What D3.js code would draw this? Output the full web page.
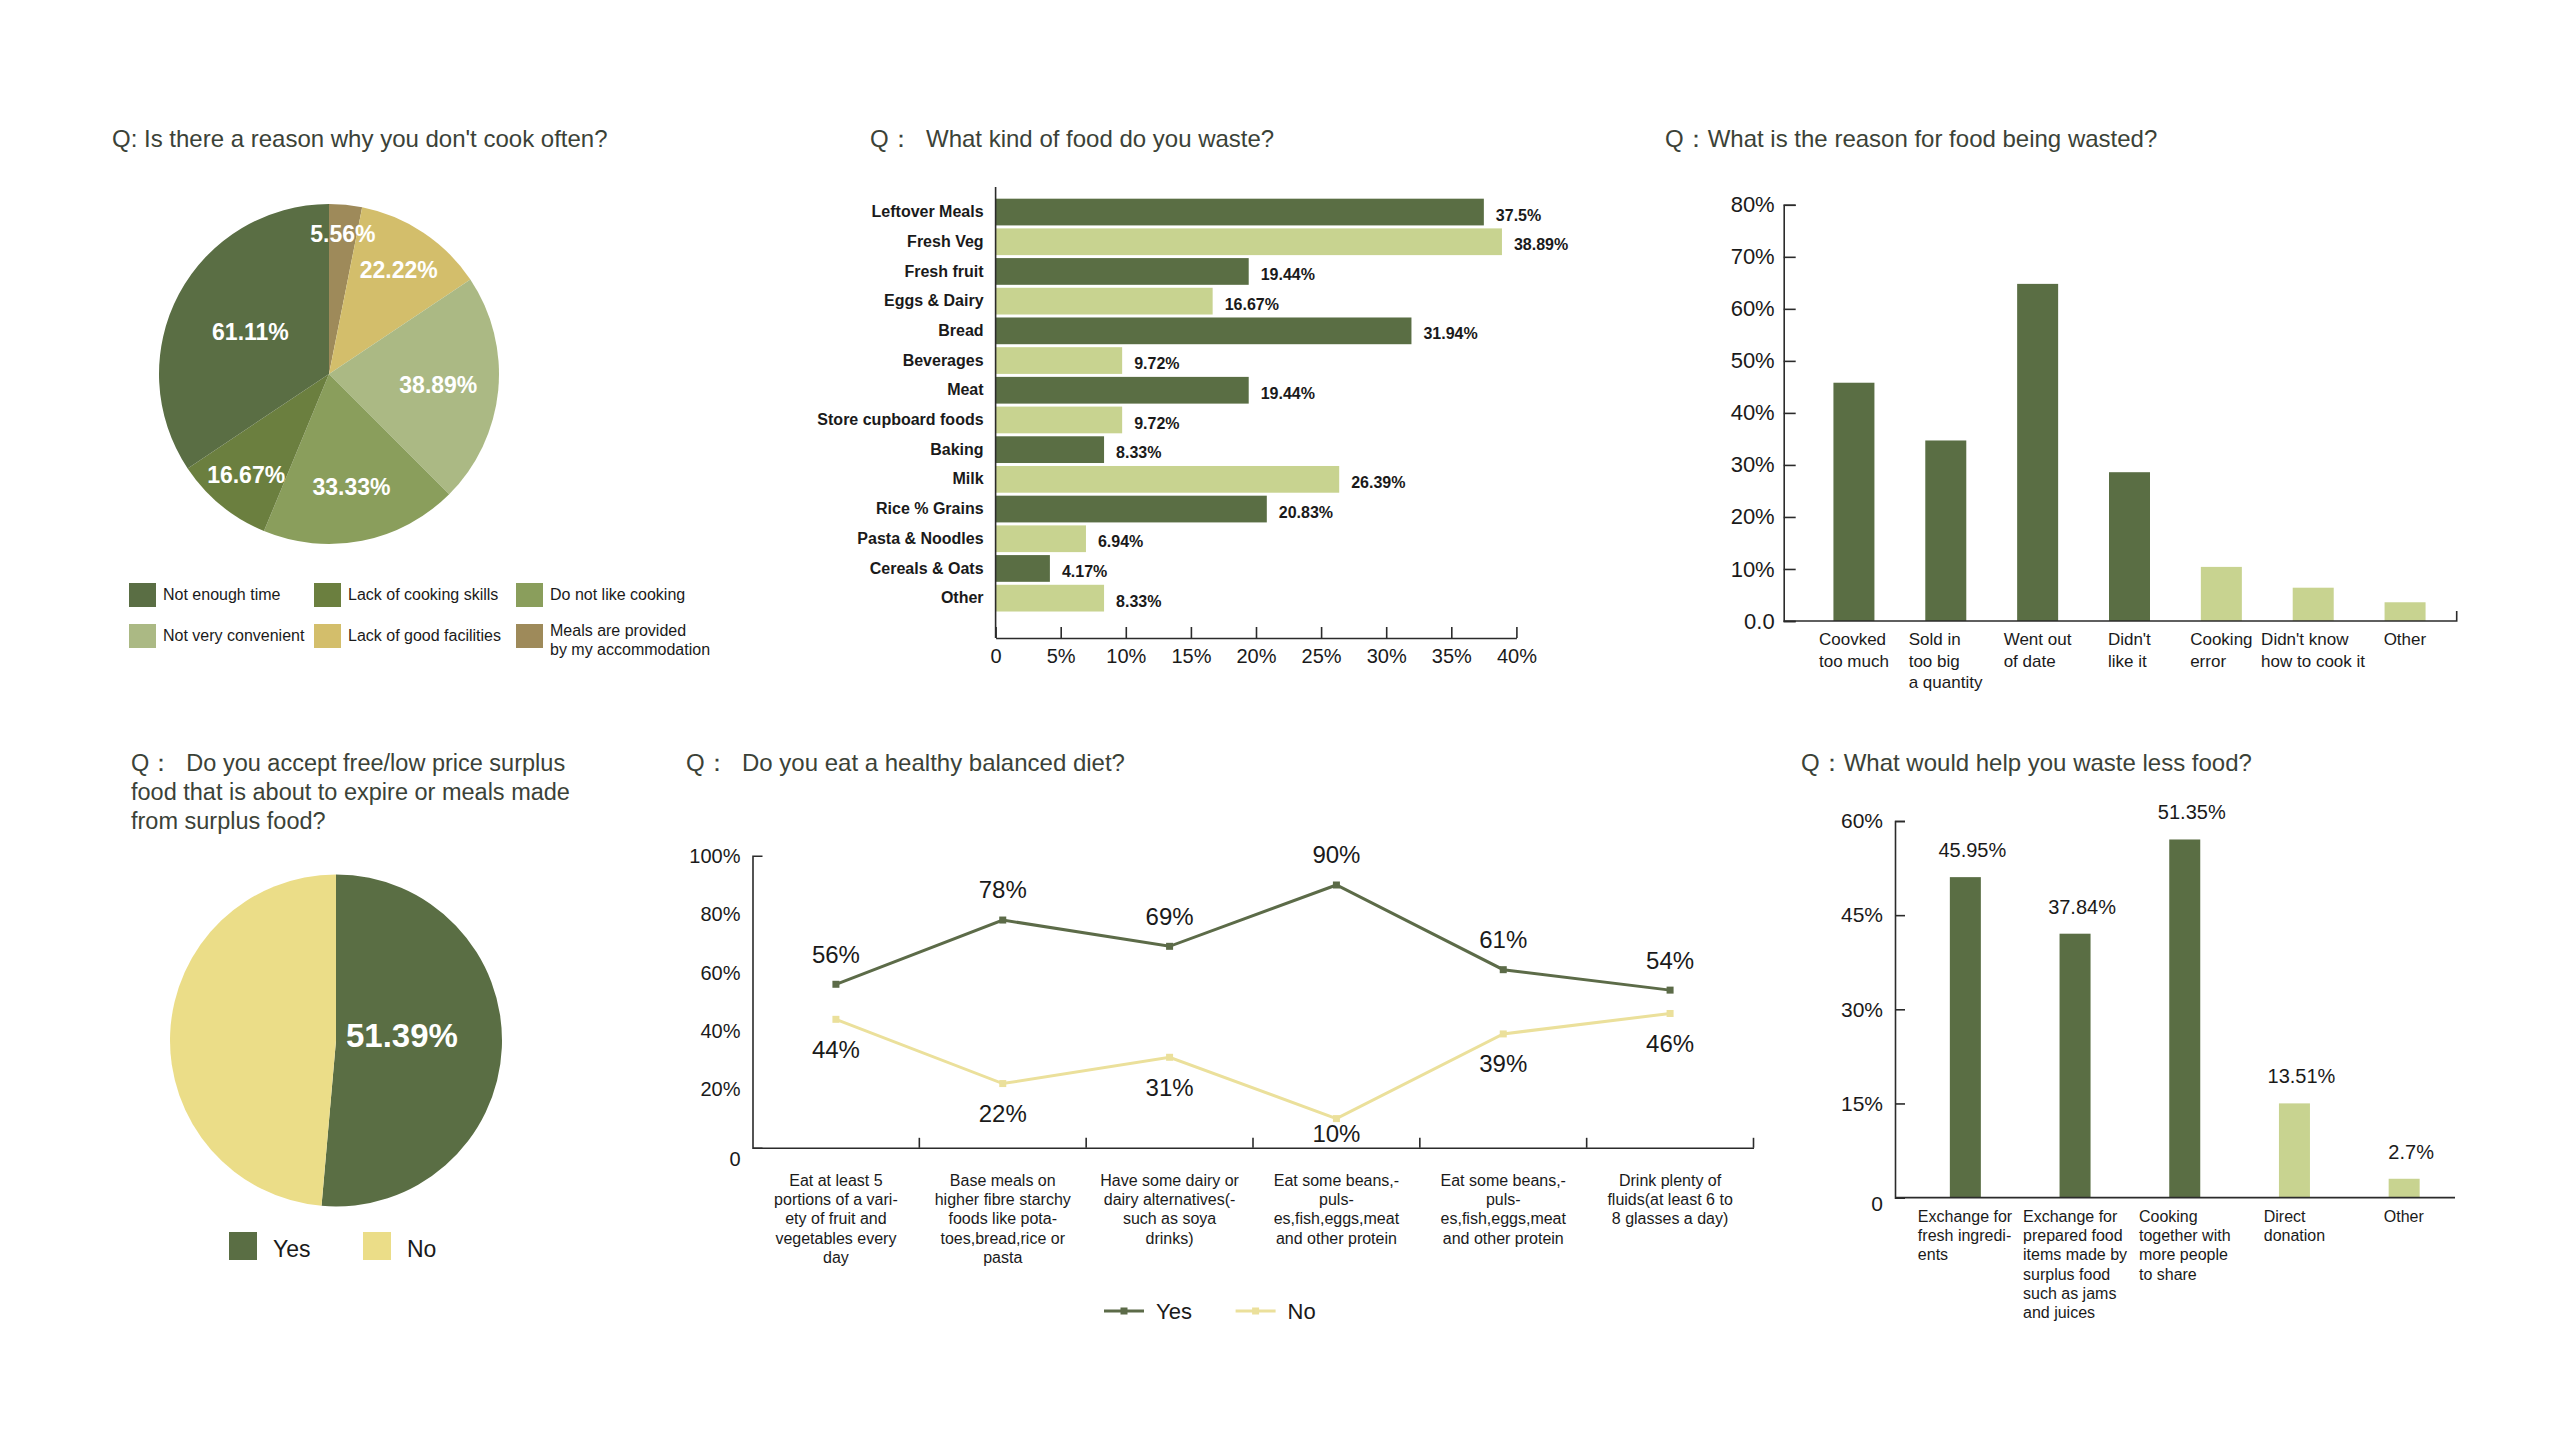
<!DOCTYPE html>
<html lang="en">
<head>
<meta charset="utf-8">
<title>Food waste survey</title>
<script src="https://cdn.jsdelivr.net/npm/d3@7/dist/d3.min.js"></script>
<style>
  body { margin: 0; background: #fff; }
  svg { font-family: "Liberation Sans", Arial, Helvetica, sans-serif; }
  .title { fill: #3b4237; font-size: 24px; white-space: pre; }
  .axis path, .axis line { stroke: #2b2b2b; stroke-width: 1.6; fill: none; }
  .axis text { fill: #1a1a1a; font-family: "Liberation Sans", Arial, sans-serif; }
</style>
</head>
<body>
<script>
// ---- data ----
// Q: Is there a reason why you don't cook often?
var cookReasons = ["Not enough time", "Lack of cooking skills", "Do not like cooking",
                   "Not very convenient", "Lack of good facilities", "Meals are provided\nby my accommodation"];
var cookShares = [61.11, 16.67, 33.33, 38.89, 22.22, 5.56];

// Q: What kind of food do you waste?
var wasteFoods = ["Leftover Meals", "Fresh Veg", "Fresh fruit", "Eggs & Dairy", "Bread", "Beverages", "Meat",
                  "Store cupboard foods", "Baking", "Milk", "Rice % Grains", "Pasta & Noodles", "Cereals & Oats", "Other"];
var wasteShares = [37.5, 38.89, 19.44, 16.67, 31.94, 9.72, 19.44, 9.72, 8.33, 26.39, 20.83, 6.94, 4.17, 8.33];
var wasteTicks = [0, 5, 10, 15, 20, 25, 30, 35, 40];

// Q: What is the reason for food being wasted?
var reasonLabels = ["Coovked\ntoo much", "Sold in\ntoo big\na quantity", "Went out\nof date", "Didn't\nlike it",
                    "Cooking\nerror", "Didn't know\nhow to cook it", "Other"];
var reasonShares = [45.8, 34.7, 64.8, 28.6, 10.4, 6.4, 3.6];
var reasonTicks = [0, 10, 20, 30, 40, 50, 60, 70, 80];

// Q: Do you accept free/low price surplus food ...
var surplusAnswers = ["Yes", "No"];
var surplusShares = [51.39, 48.61];

// Q: Do you eat a healthy balanced diet?
var dietItems = ["Eat at least 5\nportions of a vari-\nety of fruit and\nvegetables every\nday",
                 "Base meals on\nhigher fibre starchy\nfoods like pota-\ntoes,bread,rice or\npasta",
                 "Have some dairy or\ndairy alternatives(-\nsuch as soya\ndrinks)",
                 "Eat some beans,-\npuls-\nes,fish,eggs,meat\nand other protein",
                 "Eat some beans,-\npuls-\nes,fish,eggs,meat\nand other protein",
                 "Drink plenty of\nfluids(at least 6 to\n8 glasses a day)"];
var dietYes = [56, 78, 69, 90, 61, 54];
var dietNo = [44, 22, 31, 10, 39, 46];
var dietTicks = [0, 20, 40, 60, 80, 100];

// Q: What would help you waste less food?
var helpItems = ["Exchange for\nfresh ingredi-\nents", "Exchange for\nprepared food\nitems made by\nsurplus food\nsuch as jams\nand juices",
                 "Cooking\ntogether with\nmore people\nto share", "Direct\ndonation", "Other"];
var helpShares = [45.95, 37.84, 51.35, 13.51, 2.7];
var helpTicks = [0, 15, 30, 45, 60];

// ---- styles ----
var dark = "#5a6e44", light = "#c8d390";
var cookColors = ["#5a6e44", "#6b7f3f", "#8a9e5c", "#abb984", "#d3be6b", "#9e8a5a"];
var surplusColors = ["#5a6e44", "#ebdd88"];
var lineColors = ["#5c6b48", "#ebe09b"];

var svg = d3.select("body").append("svg").attr("width", 2560).attr("height", 1440);

function title(lines, x, y, size) {
  var t = svg.append("text").attr("class", "title").attr("x", x).attr("y", y);
  if (size) t.style("font-size", size + "px");
  lines.forEach(function (s, i) {
    t.append("tspan").attr("x", x).attr("dy", i ? 29 : 0).text(s);
  });
}

// left aligned multi-line block, centred on cx
function block(g, text, cx, y, lh, size) {
  var t = g.append("text").attr("y", y).style("font-size", size + "px").attr("fill", "#1a1a1a");
  text.split("\n").forEach(function (s, i) {
    t.append("tspan").attr("x", 0).attr("dy", i ? lh : 0).text(s);
  });
  var w = t.node().getBBox().width;
  t.attr("transform", "translate(" + (cx - w / 2) + ",0)");
}

// ========== 1. pie: reason for not cooking ==========
title(["Q: Is there a reason why you don't cook often?"], 112, 147);
(function () {
  var cx = 329, cy = 374, r = 170;
  var data = cookReasons.map(function (d, i) { return { name: d, value: cookShares[i], color: cookColors[i] }; }).reverse();
  var pie = d3.pie().sort(null).value(function (d) { return d.value; });
  var arc = d3.arc().innerRadius(0).outerRadius(r);
  var g = svg.append("g").attr("transform", "translate(" + cx + "," + cy + ")");
  var arcs = pie(data);
  g.selectAll("path").data(arcs).enter().append("path")
    .attr("d", arc).attr("fill", function (d) { return d.data.color; });
  // small slices get their label pushed further out
  g.selectAll("text").data(arcs).enter().append("text")
    .attr("transform", function (d) {
      var lr = r * (0.86 - 0.0055 * d.data.value);
      return "translate(" + d3.arc().innerRadius(lr).outerRadius(lr).centroid(d) + ")";
    })
    .attr("text-anchor", "middle").attr("dy", "0.35em")
    .style("font-size", "23px").style("font-weight", "bold").attr("fill", "#fff")
    .text(function (d) { return d.data.value.toFixed(2) + "%"; });

  var colX = [129, 314, 516], rowY = [595, 636];
  var lg = svg.append("g");
  cookReasons.forEach(function (name, i) {
    var x = colX[i % 3], y = rowY[Math.floor(i / 3)];
    lg.append("rect").attr("x", x).attr("y", y - 12).attr("width", 27).attr("height", 24).attr("fill", cookColors[i]);
    var lines = name.split("\n");
    var t = lg.append("text").attr("x", x + 34).attr("y", lines.length > 1 ? y : y + 5)
      .style("font-size", "16px").attr("fill", "#1a1a1a");
    lines.forEach(function (s, j) { t.append("tspan").attr("x", x + 34).attr("dy", j ? 19 : 0).text(s); });
  });
})();

// ========== 2. horizontal bars: food wasted ==========
title(["Q：  What kind of food do you waste?"], 870, 147);
(function () {
  var x = d3.scaleLinear().domain([0, 40]).range([995.6, 1516.4]);
  var y = d3.scaleBand().domain(wasteFoods).range([197.2, 613]).paddingInner(0.1).paddingOuter(0.05);
  var g = svg.append("g");
  g.selectAll("rect").data(wasteFoods).enter().append("rect")
    .attr("x", x(0)).attr("y", function (d) { return y(d); })
    .attr("width", function (d, i) { return x(wasteShares[i]) - x(0); })
    .attr("height", y.bandwidth())
    .attr("fill", function (d, i) { return i % 2 ? light : dark; });
  g.selectAll("text.val").data(wasteFoods).enter().append("text").attr("class", "val")
    .attr("x", function (d, i) { return x(wasteShares[i]) + 12; })
    .attr("y", function (d) { return y(d) + y.bandwidth() / 2 + 3; })
    .attr("dy", "0.35em").style("font-size", "16px").style("font-weight", "bold").attr("fill", "#1a1a1a")
    .text(function (d, i) { return wasteShares[i] + "%"; });

  var ya = svg.append("g").attr("class", "axis").attr("transform", "translate(" + x(0) + ",0)")
    .call(d3.axisLeft(y).tickSize(0).tickPadding(12));
  ya.select(".domain").remove();
  ya.selectAll("text").style("font-size", "16px").style("font-weight", "bold");
  svg.append("line").attr("x1", x(0)).attr("x2", x(0)).attr("y1", 187).attr("y2", 638)
    .attr("stroke", "#2b2b2b").attr("stroke-width", 1.6);

  svg.append("g").attr("class", "axis").attr("transform", "translate(0,638)")
    .call(d3.axisBottom(x).tickValues(wasteTicks).tickSizeInner(-11).tickSizeOuter(0).tickPadding(11)
      .tickFormat(function (d) { return d ? d + "%" : "0"; }))
    .selectAll("text").style("font-size", "20px");
})();

// ========== 3. vertical bars: reason for waste ==========
title(["Q：What is the reason for food being wasted?"], 1665, 147);
(function () {
  var y = d3.scaleLinear().domain([0, 80]).range([621, 204.8]);
  var x = d3.scaleBand().domain(d3.range(reasonLabels.length)).range([1808, 2451]);
  var bw = 41;
  var g = svg.append("g");
  g.selectAll("rect").data(reasonShares).enter().append("rect")
    .attr("x", function (d, i) { return x(i) + x.bandwidth() / 2 - bw / 2; })
    .attr("y", function (d) { return y(d); })
    .attr("width", bw).attr("height", function (d) { return y(0) - y(d); })
    .attr("fill", function (d, i) { return i < 4 ? dark : light; });

  svg.append("g").attr("class", "axis").attr("transform", "translate(1783.7,0)")
    .call(d3.axisLeft(y).tickValues(reasonTicks).tickSize(-12).tickPadding(9)
      .tickFormat(function (d) { return d ? d + "%" : "0.0"; }))
    .selectAll("text").style("font-size", "22px");
  svg.append("path").attr("d", "M1783.7," + y(0) + "H2456.7V" + (y(0) - 10))
    .attr("fill", "none").attr("stroke", "#2b2b2b").attr("stroke-width", 1.6);

  reasonLabels.forEach(function (s, i) {
    block(svg, s, x(i) + x.bandwidth() / 2, 645, 21.7, 17);
  });
})();

// ========== 4. pie: surplus food ==========
title(["Q：  Do you accept free/low price surplus", "food that is about to expire or meals made", "from surplus food?"], 131, 771, 23.5);
(function () {
  var cx = 336, cy = 1040.5, r = 166;
  var pie = d3.pie().sort(null);
  var arc = d3.arc().innerRadius(0).outerRadius(r);
  var labelArc = d3.arc().innerRadius(0).outerRadius(132);
  var g = svg.append("g").attr("transform", "translate(" + cx + "," + cy + ")");
  var arcs = pie(surplusShares);
  g.selectAll("path").data(arcs).enter().append("path")
    .attr("d", arc).attr("fill", function (d, i) { return surplusColors[i]; });
  g.append("text").datum(arcs[0])
    .attr("transform", function (d) { return "translate(" + labelArc.centroid(d) + ")"; })
    .attr("text-anchor", "middle").attr("dy", "0.1em")
    .style("font-size", "33px").style("font-weight", "bold").attr("fill", "#fff")
    .text(function (d) { return d.data + "%"; });

  var lx = [229, 363];
  surplusAnswers.forEach(function (s, i) {
    svg.append("rect").attr("x", lx[i]).attr("y", 1232).attr("width", 28).attr("height", 28).attr("fill", surplusColors[i]);
    svg.append("text").attr("x", lx[i] + 44).attr("y", 1257).style("font-size", "23px").attr("fill", "#1a1a1a").text(s);
  });
})();

// ========== 5. line chart: healthy diet ==========
title(["Q：  Do you eat a healthy balanced diet?"], 686, 771);
(function () {
  var x = d3.scaleBand().domain(d3.range(dietItems.length)).range([752.5, 1753.5]);
  var y = d3.scaleLinear().domain([0, 100]).range([1147.8, 855.8]);
  var cx = function (i) { return x(i) + x.bandwidth() / 2; };

  svg.append("g").attr("class", "axis").attr("transform", "translate(752.5,0)")
    .call(d3.axisLeft(y).tickValues(dietTicks).tickSizeInner(0).tickSizeOuter(-10).tickPadding(12)
      .tickFormat(function (d) { return d ? d + "%" : "0"; }))
    .selectAll("text").style("font-size", "20px")
    .attr("dy", function (d) { return d ? "0.32em" : "0.9em"; });

  var xa = svg.append("g").attr("class", "axis").attr("transform", "translate(0,1147.8)")
    .call(d3.axisBottom(x).tickSize(0).tickFormat(""));
  xa.selectAll(".tick").remove();
  xa.selectAll("line.sep").data(dietItems).enter().append("line").attr("class", "sep")
    .attr("x1", function (d, i) { return x(i) + x.bandwidth(); })
    .attr("x2", function (d, i) { return x(i) + x.bandwidth(); })
    .attr("y1", 0).attr("y2", -10);

  dietItems.forEach(function (s, i) {
    var t = svg.append("text").attr("text-anchor", "middle").attr("y", 1186)
      .style("font-size", "16px").attr("fill", "#1a1a1a");
    s.split("\n").forEach(function (ln, j) { t.append("tspan").attr("x", cx(i)).attr("dy", j ? 19.2 : 0).text(ln); });
  });

  var line = d3.line().x(function (d, i) { return cx(i); }).y(function (d) { return y(d); });
  [dietYes, dietNo].forEach(function (series, k) {
    var g = svg.append("g");
    g.append("path").datum(series).attr("d", line).attr("fill", "none")
      .attr("stroke", lineColors[k]).attr("stroke-width", 3);
    g.selectAll("rect").data(series).enter().append("rect")
      .attr("x", function (d, i) { return cx(i) - 3.5; }).attr("y", function (d) { return y(d) - 3.5; })
      .attr("width", 7).attr("height", 7).attr("fill", lineColors[k]);
    g.selectAll("text").data(series).enter().append("text")
      .attr("x", function (d, i) { return cx(i); })
      .attr("y", function (d) { return k ? Math.min(y(d) + 30, y(0) - 14) : y(d) - 30; })
      .attr("dy", "0.35em").attr("text-anchor", "middle")
      .style("font-size", "24px").attr("fill", "#1a1a1a")
      .text(function (d) { return d + "%"; });
  });

  var legX = [1104, 1235.6], names = ["Yes", "No"];
  names.forEach(function (s, k) {
    svg.append("line").attr("x1", legX[k]).attr("x2", legX[k] + 40).attr("y1", 1311).attr("y2", 1311)
      .attr("stroke", lineColors[k]).attr("stroke-width", 3);
    svg.append("rect").attr("x", legX[k] + 16.5).attr("y", 1307.5).attr("width", 7).attr("height", 7).attr("fill", lineColors[k]);
    svg.append("text").attr("x", legX[k] + 52).attr("y", 1319).style("font-size", "22px").attr("fill", "#1a1a1a").text(s);
  });
})();

// ========== 6. vertical bars: what would help ==========
title(["Q：What would help you waste less food?"], 1801, 771);
(function () {
  // the original axis reads 0-60% but its bars stand at 0.9 of that scale
  var yAxisScale = d3.scaleLinear().domain([0, 60]).range([1197.6, 821]);
  var y = d3.scaleLinear().domain([0, 54]).range([1197.6, 821]);
  var x = d3.scaleBand().domain(d3.range(helpItems.length)).range([1910.5, 2459]);
  var bw = 31;
  var g = svg.append("g");
  g.selectAll("rect").data(helpShares).enter().append("rect")
    .attr("x", function (d, i) { return x(i) + x.bandwidth() / 2 - bw / 2; })
    .attr("y", function (d) { return y(d); })
    .attr("width", bw).attr("height", function (d) { return y(0) - y(d); })
    .attr("fill", function (d, i) { return i < 3 ? dark : light; });
  g.selectAll("text").data(helpShares).enter().append("text")
    .attr("x", function (d, i) { return x(i) + x.bandwidth() / 2 + 7; })
    .attr("y", function (d) { return y(d) - 20; })
    .attr("text-anchor", "middle").style("font-size", "20px").attr("fill", "#1a1a1a")
    .text(function (d) { return d + "%"; });

  svg.append("g").attr("class", "axis").attr("transform", "translate(1895,0)")
    .call(d3.axisLeft(yAxisScale).tickValues(helpTicks).tickSize(-10).tickPadding(12)
      .tickFormat(function (d) { return d ? d + "%" : "0"; }))
    .selectAll("text").style("font-size", "21px")
    .attr("dy", function (d) { return d ? "0.32em" : "0.6em"; });
  svg.append("line").attr("x1", 1895).attr("x2", 2455).attr("y1", y(0)).attr("y2", y(0))
    .attr("stroke", "#2b2b2b").attr("stroke-width", 1.6);

  helpItems.forEach(function (s, i) {
    block(svg, s, x(i) + x.bandwidth() / 2, 1222, 19.2, 16);
  });
})();
</script>
</body>
</html>
